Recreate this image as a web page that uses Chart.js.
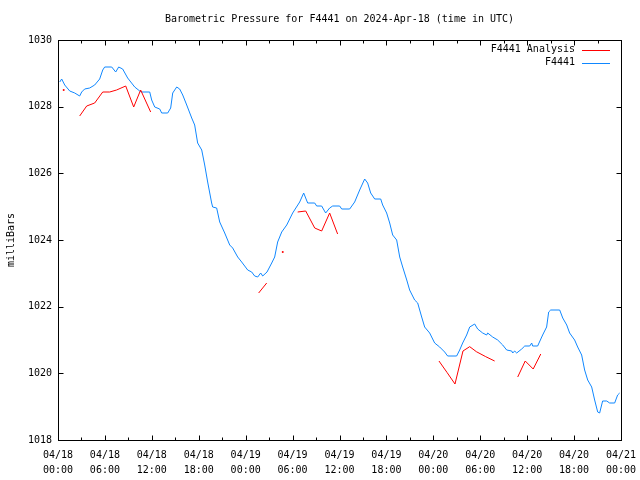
<!DOCTYPE html>
<html>
<head>
<meta charset="utf-8">
<script src="https://cdn.jsdelivr.net/npm/chart.js@4/dist/chart.umd.min.js"></script>
<style>
html, body { margin: 0; padding: 0; background: #fff; }
</style>
</head>
<body>
<canvas id="myChart" width="640" height="480"></canvas>
<script>
// 관측소 F4441 기압 (시간: 2024-04-18 00:00 UTC 부터의 경과 시간)
const stationHours = [0.22, 0.47, 0.86, 1.50, 2.14, 2.77, 3.03, 3.41, 4.05, 4.69, 5.33, 5.72, 5.97, 6.87, 7.38, 7.76, 8.27, 8.91, 9.81, 10.45,
  10.70, 11.73, 11.98, 12.37, 13.01, 13.26, 14.03, 14.41, 14.67, 15.18, 15.56, 15.95, 16.46, 17.10, 17.48, 17.86, 18.38, 18.76, 19.14, 19.65,
  19.78, 20.29, 20.68, 21.32, 21.96, 22.34, 22.98, 23.49, 24.26, 24.77, 25.15, 25.54, 25.92, 26.18, 26.73, 27.33, 27.71, 28.09, 28.61, 29.25,
  30.01, 30.91, 31.42, 31.93, 32.83, 33.08, 33.72, 34.23, 34.74, 35.13, 36.02, 36.28, 37.30, 37.94, 38.58, 39.22, 39.60, 39.99, 40.50, 41.27,
  41.52, 42.03, 42.42, 42.80, 43.31, 43.70, 44.08, 44.60, 44.97, 45.61, 46.00, 46.51, 46.89, 47.53, 48.17, 48.81, 49.45, 49.83, 50.98, 51.37,
  51.75, 52.26, 52.65, 53.29, 53.67, 54.31, 54.82, 54.95, 55.59, 56.23, 56.87, 57.38, 58.02, 58.15, 58.40, 58.66, 59.30, 59.69, 60.33, 60.58,
  60.70, 61.34, 61.98, 62.49, 62.75, 63.01, 64.16, 64.55, 65.06, 65.43, 66.07, 66.46, 66.97, 67.35, 67.74, 68.25, 68.63, 69.02, 69.27, 69.65,
  70.17, 70.55, 71.19, 71.57, 71.83];
const stationPressure = [1028.74, 1028.83, 1028.65, 1028.47, 1028.41, 1028.32, 1028.44, 1028.53, 1028.56, 1028.65, 1028.83, 1029.10, 1029.19, 1029.19, 1029.04, 1029.19, 1029.13, 1028.86, 1028.59, 1028.47,
  1028.44, 1028.44, 1028.20, 1027.99, 1027.93, 1027.81, 1027.81, 1027.96, 1028.41, 1028.59, 1028.53, 1028.35, 1028.05, 1027.66, 1027.45, 1026.91, 1026.70, 1026.25, 1025.74, 1025.11,
  1024.99, 1024.96, 1024.54, 1024.21, 1023.85, 1023.76, 1023.49, 1023.34, 1023.10, 1023.04, 1022.92, 1022.89, 1023.01, 1022.92, 1023.04, 1023.31, 1023.49, 1023.94, 1024.24, 1024.45,
  1024.81, 1025.14, 1025.41, 1025.11, 1025.11, 1025.02, 1025.02, 1024.81, 1024.96, 1025.02, 1025.02, 1024.93, 1024.93, 1025.14, 1025.50, 1025.83, 1025.71, 1025.41, 1025.23, 1025.23,
  1025.05, 1024.81, 1024.51, 1024.15, 1024.00, 1023.49, 1023.19, 1022.80, 1022.50, 1022.20, 1022.11, 1021.69, 1021.39, 1021.21, 1020.91, 1020.79, 1020.64, 1020.52, 1020.52, 1020.70,
  1020.91, 1021.15, 1021.39, 1021.48, 1021.33, 1021.21, 1021.15, 1021.21, 1021.09, 1021.00, 1020.85, 1020.70, 1020.67, 1020.61, 1020.67, 1020.61, 1020.73, 1020.82, 1020.82, 1020.91,
  1020.82, 1020.82, 1021.15, 1021.39, 1021.84, 1021.90, 1021.90, 1021.66, 1021.45, 1021.21, 1021.00, 1020.79, 1020.55, 1020.10, 1019.80, 1019.59, 1019.20, 1018.84, 1018.81, 1019.17,
  1019.17, 1019.11, 1019.11, 1019.35, 1019.41];

// 분석값 (null = 끊김)
const analysisHours = [0.73, 1.8, 2.77, 3.67, 4.69, 5.72, 6.61, 7.49, 8.66, 9.68, 10.57, 11.85, 18, 25.66, 26.69, 27.7, 28.74, 29.7,
  30.65, 31.68, 32.83, 33.72, 34.74, 35.76, 42, 48.72, 49.74, 50.77, 51.79, 52.65, 53.50, 54.70, 55.84, 57.3, 58.79, 59.75, 60.77, 61.74];
const analysisPressure = [1028.50, null, 1027.72, 1028.02, 1028.11, 1028.44, 1028.44, 1028.50, 1028.62, 1027.99, 1028.50, 1027.84, null, 1022.41, 1022.71, null, 1023.64, null,
  1024.84, 1024.87, 1024.36, 1024.27, 1024.81, 1024.18, null, 1020.37, 1020.03, 1019.68, 1020.67, 1020.80, 1020.65, 1020.50, 1020.37, null, 1019.89, 1020.37, 1020.13, 1020.58];

const startDay = 18;
const monthLabel = "04";
const chartTitle = "Barometric Pressure for F4441 on 2024-Apr-18 (time in UTC)";
const yTitle = "milliBars";

const FONT = "'DejaVu Sans Mono', 'Liberation Mono', monospace";
const pad2 = n => String(n).padStart(2, "0");

function toPoints(xs, ys) {
    return xs.map((x, i) => ({ x: x, y: ys[i] }));
}

// 테두리, 안쪽 눈금, 제목, 범례를 그리는 플러그인
const framePlugin = {
    id: "frame",
    afterDatasetsDraw(chart) {
        const ctx = chart.ctx;
        const a = chart.chartArea;
        const xs = chart.scales.x, ys = chart.scales.y;
        const L = Math.round(a.left) + 0.5, R = Math.round(a.right) + 0.5;
        const T = Math.round(a.top) + 0.5, B = Math.round(a.bottom) + 0.5;
        ctx.save();
        ctx.strokeStyle = "#000";
        ctx.lineWidth = 1;
        ctx.strokeRect(L, T, R - L, B - T);
        ctx.beginPath();
        for (let h = xs.min; h <= xs.max; h += 3) {
            const px = Math.round(xs.getPixelForValue(h)) + 0.5;
            const len = h % 6 === 0 ? 5 : 3;
            ctx.moveTo(px, B); ctx.lineTo(px, B - len);
            ctx.moveTo(px, T); ctx.lineTo(px, T + len);
        }
        ys.ticks.forEach(t => {
            const py = Math.round(ys.getPixelForValue(t.value)) + 0.5;
            ctx.moveTo(L, py); ctx.lineTo(L + 5, py);
            ctx.moveTo(R, py); ctx.lineTo(R - 5, py);
        });
        ctx.stroke();

        ctx.fillStyle = "#000";
        ctx.font = "10px " + FONT;
        ctx.textAlign = "center";
        ctx.textBaseline = "middle";
        ctx.fillText(chartTitle, (a.left + a.right) / 2, 19);

        // 범례
        ctx.textAlign = "right";
        chart.data.datasets.forEach((ds, i) => {
            const y = 49.5 + i * 13;
            ctx.fillStyle = "#000";
            ctx.fillText(ds.label, 575, y);
            ctx.strokeStyle = ds.borderColor;
            ctx.beginPath();
            ctx.moveTo(582, Math.round(y) + 0.5);
            ctx.lineTo(610, Math.round(y) + 0.5);
            ctx.stroke();
        });
        ctx.restore();
    }
};

let chart;

function initChart() {
    const ctx = document.getElementById("myChart").getContext("2d");
    const analysisData = toPoints(analysisHours, analysisPressure);
    const isolated = i => analysisData[i].y !== null &&
        (i === 0 || analysisData[i - 1].y === null) &&
        (i === analysisData.length - 1 || analysisData[i + 1].y === null);

    chart = new Chart(ctx, {
        type: "line",
        data: {
            datasets: [
                {
                    label: "F4441 Analysis",
                    data: analysisData,
                    borderColor: "#ff0000",
                    backgroundColor: "#ff0000",
                    borderWidth: 1,
                    spanGaps: false,
                    tension: 0,
                    pointRadius: c => isolated(c.dataIndex) ? 1 : 0,
                    pointBorderWidth: 0,
                },
                {
                    label: "F4441",
                    data: toPoints(stationHours, stationPressure),
                    borderColor: "#0f87ff",
                    backgroundColor: "#0f87ff",
                    borderWidth: 1,
                    tension: 0,
                    pointRadius: 0,
                }
            ],
        },
        options: {
            responsive: false,
            animation: false,
            devicePixelRatio: 1,
            layout: { padding: { top: 40, right: 19, left: 0, bottom: 0 } },
            plugins: {
                legend: { display: false },
                title: { display: false },
                tooltip: { enabled: false },
            },
            scales: {
                x: {
                    type: "linear",
                    min: 0,
                    max: 72,
                    grid: { display: false, drawTicks: false },
                    border: { display: false },
                    ticks: {
                        stepSize: 6,
                        autoSkip: false,
                        maxRotation: 0,
                        padding: 8,
                        color: "#000",
                        font: { family: FONT, size: 10, lineHeight: 1.5 },
                        callback: v => [monthLabel + "/" + pad2(startDay + Math.floor(v / 24)), pad2(v % 24) + ":00"],
                    },
                    afterFit: s => {
                        s.height = 40;
                        s.paddingLeft = 0;
                        s.paddingRight = 0;
                    },
                },
                y: {
                    min: 1018,
                    max: 1030,
                    grid: { display: false, drawTicks: false },
                    border: { display: false },
                    ticks: {
                        stepSize: 2,
                        padding: 6,
                        color: "#000",
                        font: { family: FONT, size: 10 },
                        callback: v => String(v),
                    },
                    title: {
                        display: true,
                        text: yTitle,
                        color: "#000",
                        padding: { top: 5, bottom: 0 },
                        font: { family: FONT, size: 10 },
                    },
                    afterFit: s => {
                        s.width = 58;
                        s.paddingTop = 0;
                        s.paddingBottom = 0;
                    },
                },
            },
        },
        plugins: [framePlugin],
    });
}

window.onload = function () {
    initChart();
};
</script>
</body>
</html>
